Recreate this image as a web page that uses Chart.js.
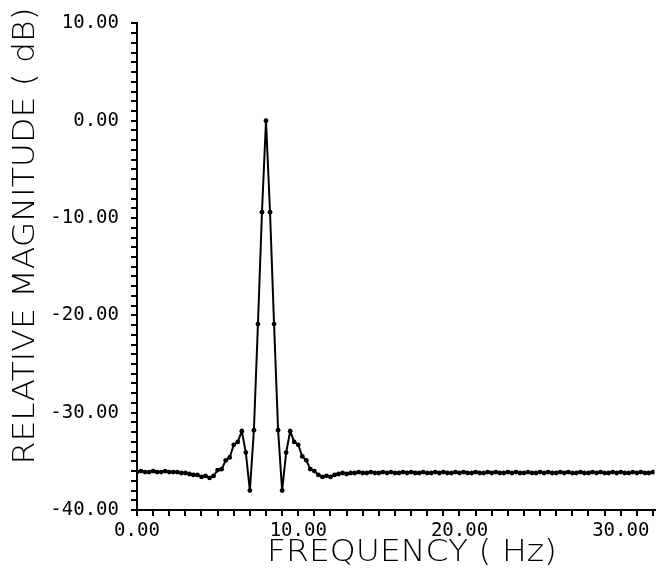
<!DOCTYPE html>
<html>
<head>
<meta charset="utf-8">
<script src="https://cdn.jsdelivr.net/npm/chart.js@4/dist/chart.umd.min.js"></script>
<style>
  html, body { margin: 0; padding: 0; background: #fff; }
  #wrap { width: 657px; height: 571px; }
</style>
</head>
<body>
<div id="wrap"><canvas id="spec" width="657" height="571"></canvas></div>
<script>
// spectrum sampled every 0.25 Hz from 0 to 32 Hz
const df = 0.25;
const magLow  = [-36.1, -36.0, -36.1, -36.1, -36.0, -36.1, -36.1, -36.0, -36.1, -36.1, -36.1, -36.2, -36.2,
                 -36.3, -36.4, -36.4, -36.6, -36.5, -36.7, -36.5];                       // 0.00 .. 4.75
const magLobe = [-35.9, -35.8, -34.9, -34.6, -33.3, -33.0, -31.9, -34.1, -38.0, -31.8, -20.9, -9.4,
                   0.0,
                  -9.4, -20.9, -31.8, -38.0, -34.1, -31.9, -33.0, -33.3, -34.5, -34.9, -35.8, -36.0,
                 -36.4, -36.6, -36.5, -36.6, -36.4, -36.3, -36.2];                       // 5.00 .. 12.75
const magHigh = [-36.3, -36.2, -36.2, -36.1, -36.2, -36.2, -36.1, -36.2, -36.2, -36.1, -36.2, -36.1,
                 -36.2, -36.2, -36.1, -36.2, -36.1, -36.2, -36.2, -36.1, -36.2, -36.2, -36.1, -36.2,
                 -36.1, -36.2, -36.2, -36.1, -36.2, -36.1, -36.2, -36.2, -36.1, -36.2, -36.2, -36.1,
                 -36.2, -36.1, -36.2, -36.2, -36.1, -36.2, -36.1, -36.2, -36.2, -36.1, -36.2, -36.2,
                 -36.1, -36.2, -36.1, -36.2, -36.2, -36.1, -36.2, -36.1, -36.2, -36.2, -36.1, -36.2,
                 -36.2, -36.1, -36.2, -36.1, -36.2, -36.2, -36.1, -36.2, -36.1, -36.2, -36.2, -36.1,
                 -36.2, -36.1, -36.2, -36.2, -36.1];                                     // 13.00 .. 32.00
const magnitude = magLow.concat(magLobe, magHigh);

const xRange = [0, 32.1];
const yRange = [-40, 10];
const labelEvery = 10;

const xTitle = 'FREQUENCY ( Hz)';
const yTitle = 'RELATIVE MAGNITUDE ( dB)';

const points = magnitude.map((v, i) => ({ x: i * df, y: v }));

const tickFont = { family: '"DejaVu Sans Mono", monospace', size: 19 };
function fmt(v) { return Math.abs(v % labelEvery) < 1e-9 ? v.toFixed(2) : ''; }

// plotter-style axis titles, stretched to their lettering width
const axisTitles = {
  id: 'axisTitles',
  afterDraw(chart) {
    const ctx = chart.ctx;
    const put = (text, cx, cy, width, rot) => {
      ctx.save();
      ctx.font = '200 30px "DejaVu Sans", sans-serif';
      ctx.fillStyle = '#000';
      ctx.textAlign = 'center';
      ctx.textBaseline = 'middle';
      ctx.translate(cx, cy);
      if (rot) ctx.rotate(rot);
      ctx.scale(width / ctx.measureText(text).width, 1);
      ctx.fillText(text, 0, 0);
      ctx.restore();
    };
    put(yTitle, 26, 236, 457, -Math.PI / 2);
    put(xTitle, 412, 553, 290, 0);
  }
};

new Chart(document.getElementById('spec').getContext('2d'), {
  type: 'line',
  data: {
    datasets: [{
      data: points,
      borderColor: '#000',
      backgroundColor: '#000',
      borderWidth: 2,
      pointRadius: 2.4,
      pointHoverRadius: 2.4,
      pointBackgroundColor: '#000',
      pointBorderWidth: 0,
      tension: 0
    }]
  },
  options: {
    responsive: false,
    animation: false,
    layout: { padding: { top: 18, right: 1, left: 0, bottom: 0 } },
    plugins: { legend: { display: false }, tooltip: { enabled: false } },
    scales: {
      x: {
        type: 'linear',
        min: xRange[0], max: xRange[1],
        border: { display: true, color: '#000', width: 2 },
        grid: { display: true, drawOnChartArea: false, drawTicks: true, tickLength: 6, color: '#000', lineWidth: 2 },
        ticks: { stepSize: 1, includeBounds: false, autoSkip: false, maxRotation: 0, padding: 4,
                 color: '#000', font: tickFont, callback: fmt },
        afterFit(s) { s.height = 61; }
      },
      y: {
        type: 'linear',
        min: yRange[0], max: yRange[1],
        border: { display: true, color: '#000', width: 2 },
        grid: { display: true, drawOnChartArea: false, drawTicks: true, tickLength: 6, color: '#000', lineWidth: 2 },
        ticks: { stepSize: 1, includeBounds: false, autoSkip: false, padding: 12,
                 color: '#000', font: tickFont, callback: fmt },
        afterFit(s) { s.width = 137; }
      }
    }
  },
  plugins: [axisTitles]
});
</script>
</body>
</html>
